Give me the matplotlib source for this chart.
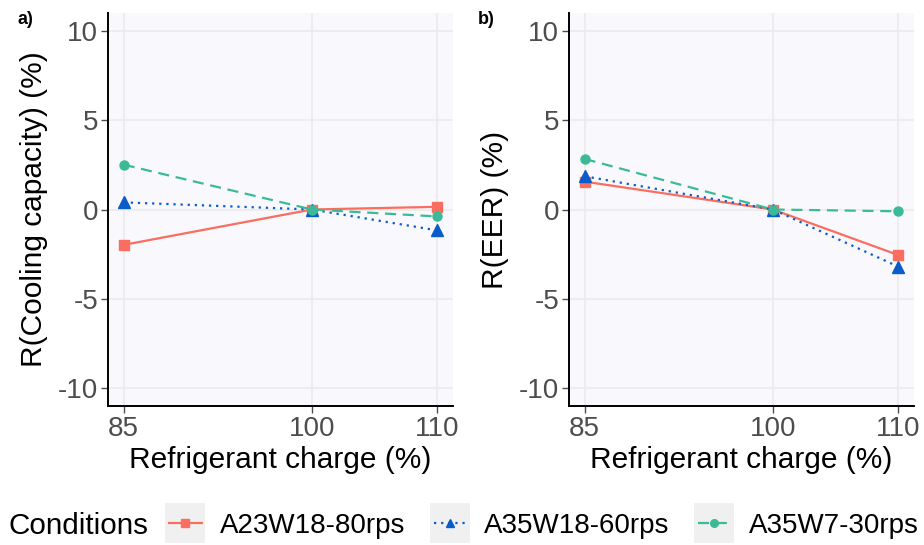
import matplotlib
matplotlib.use("Agg")
import matplotlib.pyplot as plt
from matplotlib.legend_handler import HandlerLine2D
from matplotlib.patches import Rectangle

plt.rcParams['font.family'] = ['Liberation Sans', 'DejaVu Sans']

charge = [85, 100, 110]
conditions = ["A23W18-80rps", "A35W18-60rps", "A35W7-30rps"]
cooling_a23 = [-1.98, 0.0, 0.15]
cooling_a35w18 = [0.40, 0.0, -1.17]
cooling_a35w7 = [2.51, 0.0, -0.39]
eer_a23 = [1.56, 0.0, -2.55]
eer_a35w18 = [1.86, 0.0, -3.20]
eer_a35w7 = [2.83, 0.0, -0.10]

colors = ["#FA6E5F", "#0A5CC8", "#3CBA98"]
markers = ["s", "^", "o"]
styles = ["-", (0, (1, 2.2)), (0, (5, 3))]

fig = plt.figure(figsize=(9.24, 5.45), dpi=100)
W, H = 924, 545

def add_ax(left, right, top, bottom):
    return fig.add_axes([left / W, 1 - bottom / H, (right - left) / W, (bottom - top) / H])

ax_a = add_ax(108, 453, 13, 406)
ax_b = add_ax(569, 914, 13, 406)

panels = [
    (ax_a, [cooling_a23, cooling_a35w18, cooling_a35w7], "R(Cooling capacity) (%)"),
    (ax_b, [eer_a23, eer_a35w18, eer_a35w7], "R(EER) (%)"),
]

handles = []
for ax, series, ylabel in panels:
    ax.set_facecolor("#F8F8FD")
    for i, vals in enumerate(series):
        ln, = ax.plot(charge, vals, color=colors[i], linestyle=styles[i], linewidth=1.6,
                      marker=markers[i], markersize=6.5 if i != 1 else 8, zorder=3,
                      label=conditions[i])
        if ax is ax_a:
            handles.append(ln)
    ax.set_xlim(83.75, 111.25)
    ax.set_ylim(-11, 11)
    ax.set_xticks(charge)
    ax.set_yticks([-10, -5, 0, 5, 10])
    ax.set_yticklabels(["-10", "-5", "0", "5", "10"])
    ax.grid(True, color="#EBEBEB", linewidth=1.2)
    ax.set_axisbelow(True)
    for s in ["top", "right"]:
        ax.spines[s].set_visible(False)
    for s in ["left", "bottom"]:
        ax.spines[s].set_color("black")
        ax.spines[s].set_linewidth(1.4)
    ax.tick_params(axis="both", colors="#4D4D4D", labelsize=20, length=5, width=1.0, pad=2)
    ax.set_xlabel("Refrigerant charge (%)", fontsize=21.5, color="black", labelpad=3)
    ax.set_ylabel(ylabel, fontsize=21.5, color="black", labelpad=7)

fig.text(17 / W, 1 - 19 / H, "a)", fontsize=13, fontweight="bold", va="center", ha="left")
fig.text(478 / W, 1 - 19 / H, "b)", fontsize=13, fontweight="bold", va="center", ha="left")


class BoxHandler(HandlerLine2D):
    def create_artists(self, legend, orig_handle, xdescent, ydescent, width, height, fontsize, trans):
        arts = super().create_artists(legend, orig_handle, xdescent, ydescent, width, height, fontsize, trans)
        for a in arts:
            if hasattr(a, "set_markersize"):
                a.set_markersize(5.5)
        bw, bh = 29.0, 28.5
        xc = -xdescent + width / 2.0
        yc = (height - ydescent) / 2.0
        rect = Rectangle((xc - bw / 2, yc - bh / 2), bw, bh,
                         facecolor="#F0F0F0", edgecolor="none", transform=trans, zorder=0)
        return [rect] + list(arts)


fig.text(8 / W, 1 - 526 / H, "Conditions", fontsize=21.3, va="center", ha="left")
leg = fig.legend(handles=handles, labels=conditions, loc="center left",
                 bbox_to_anchor=(169 / W, 1 - 526 / H), ncol=3, frameon=False,
                 fontsize=20, handlelength=1.17, handletextpad=0.66, columnspacing=1.02,
                 handler_map={h: BoxHandler() for h in handles}, borderaxespad=0,
                 borderpad=0)

fig.savefig("out.png", dpi=100)
